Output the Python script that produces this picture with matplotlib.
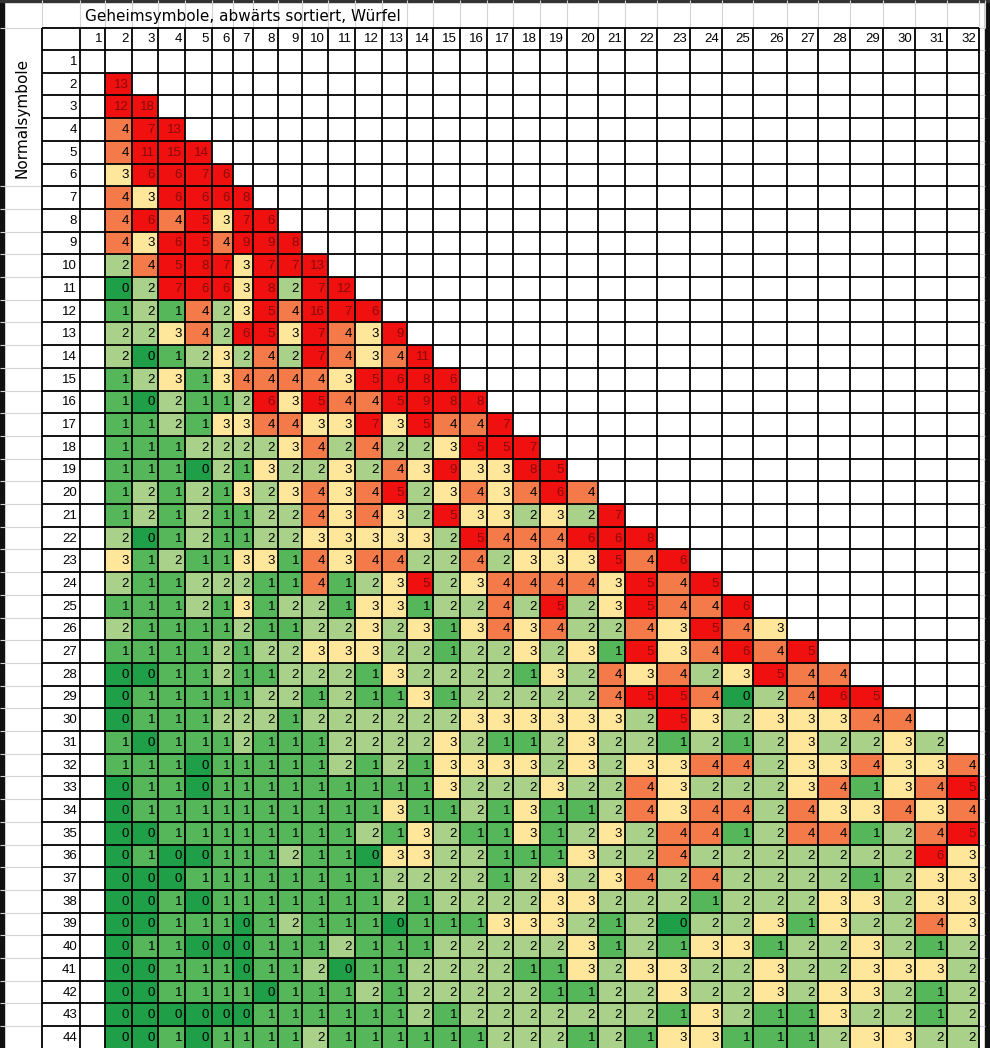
import numpy as np
import matplotlib.pyplot as plt
from matplotlib.colors import ListedColormap, BoundaryNorm

plt.rcParams['font.family'] = ['Liberation Sans', 'DejaVu Sans']

titel = "Geheimsymbole, abwärts sortiert, Würfel"
zeilen_titel = "Normalsymbole"
n_zeilen = 44
n_spalten = 32

# Zeile r (2..44): Werte für Spalten 2..min(r, 32)
werte = [
    [13],
    [12, 18],
    [4, 7, 13],
    [4, 11, 15, 14],
    [3, 6, 6, 7, 6],
    [4, 3, 6, 6, 6, 8],
    [4, 6, 4, 5, 3, 7, 6],
    [4, 3, 6, 5, 4, 9, 9, 8],
    [2, 4, 5, 8, 7, 3, 7, 7, 13],
    [0, 2, 7, 6, 6, 3, 8, 2, 7, 12],
    [1, 2, 1, 4, 2, 3, 5, 4, 16, 7, 6],
    [2, 2, 3, 4, 2, 6, 5, 3, 7, 4, 3, 9],
    [2, 0, 1, 2, 3, 2, 4, 2, 7, 4, 3, 4, 11],
    [1, 2, 3, 1, 3, 4, 4, 4, 4, 3, 5, 6, 8, 6],
    [1, 0, 2, 1, 1, 2, 6, 3, 5, 4, 4, 5, 9, 8, 8],
    [1, 1, 2, 1, 3, 3, 4, 4, 3, 3, 7, 3, 5, 4, 4, 7],
    [1, 1, 1, 2, 2, 2, 2, 3, 4, 2, 4, 2, 2, 3, 5, 5, 7],
    [1, 1, 1, 0, 2, 1, 3, 2, 2, 3, 2, 4, 3, 9, 3, 3, 8, 5],
    [1, 2, 1, 2, 1, 3, 2, 3, 4, 3, 4, 5, 2, 3, 4, 3, 4, 6, 4],
    [1, 2, 1, 2, 1, 1, 2, 2, 4, 3, 4, 3, 2, 5, 3, 3, 2, 3, 2, 7],
    [2, 0, 1, 2, 1, 1, 2, 2, 3, 3, 3, 3, 3, 2, 5, 4, 4, 4, 6, 6, 8],
    [3, 1, 2, 1, 1, 3, 3, 1, 4, 3, 4, 4, 2, 2, 4, 2, 3, 3, 3, 5, 4, 6],
    [2, 1, 1, 2, 2, 2, 1, 1, 4, 1, 2, 3, 5, 2, 3, 4, 4, 4, 4, 3, 5, 4, 5],
    [1, 1, 1, 2, 1, 3, 1, 2, 2, 1, 3, 3, 1, 2, 2, 4, 2, 5, 2, 3, 5, 4, 4, 6],
    [2, 1, 1, 1, 1, 2, 1, 1, 2, 2, 3, 2, 3, 1, 3, 4, 3, 4, 2, 2, 4, 3, 5, 4, 3],
    [1, 1, 1, 1, 2, 1, 2, 2, 3, 3, 3, 2, 2, 1, 2, 2, 3, 2, 3, 1, 5, 3, 4, 6, 4, 5],
    [0, 0, 1, 1, 2, 1, 1, 2, 2, 2, 1, 3, 2, 2, 2, 2, 1, 3, 2, 4, 3, 4, 2, 3, 5, 4, 4],
    [0, 1, 1, 1, 1, 1, 2, 2, 1, 2, 1, 1, 3, 1, 2, 2, 2, 2, 2, 4, 5, 5, 4, 0, 2, 4, 6, 5],
    [0, 1, 1, 1, 2, 2, 2, 1, 2, 2, 2, 2, 2, 2, 3, 3, 3, 3, 3, 3, 2, 5, 3, 2, 3, 3, 3, 4, 4],
    [1, 0, 1, 1, 1, 2, 1, 1, 1, 2, 2, 2, 2, 3, 2, 1, 1, 2, 3, 2, 2, 1, 2, 1, 2, 3, 2, 2, 3, 2],
    [1, 1, 1, 0, 1, 1, 1, 1, 1, 2, 1, 2, 1, 3, 3, 3, 3, 2, 3, 2, 3, 3, 4, 4, 2, 3, 3, 4, 3, 3, 4],
    [0, 1, 1, 0, 1, 1, 1, 1, 1, 1, 1, 1, 1, 3, 2, 2, 2, 3, 2, 2, 4, 3, 2, 2, 2, 3, 4, 1, 3, 4, 5],
    [0, 1, 1, 1, 1, 1, 1, 1, 1, 1, 1, 3, 1, 1, 2, 1, 3, 1, 1, 2, 4, 3, 4, 4, 2, 4, 3, 3, 4, 3, 4],
    [0, 0, 1, 1, 1, 1, 1, 1, 1, 1, 2, 1, 3, 2, 1, 1, 3, 1, 2, 3, 2, 4, 4, 1, 2, 4, 4, 1, 2, 4, 5],
    [0, 1, 0, 0, 1, 1, 1, 2, 1, 1, 0, 3, 3, 2, 2, 1, 1, 1, 3, 2, 2, 4, 2, 2, 2, 2, 2, 2, 2, 6, 3],
    [0, 0, 0, 1, 1, 1, 1, 1, 1, 1, 1, 2, 2, 2, 2, 1, 2, 3, 2, 3, 4, 2, 4, 2, 2, 2, 2, 1, 2, 3, 3],
    [0, 0, 1, 0, 1, 1, 1, 1, 1, 1, 1, 2, 1, 2, 2, 2, 2, 3, 3, 2, 2, 2, 1, 2, 2, 2, 3, 3, 2, 3, 3],
    [0, 0, 1, 1, 1, 0, 1, 2, 1, 1, 1, 0, 1, 1, 1, 3, 3, 3, 2, 1, 2, 0, 2, 2, 3, 1, 3, 2, 2, 4, 3],
    [0, 1, 1, 0, 0, 0, 1, 1, 1, 2, 1, 1, 1, 2, 2, 2, 2, 2, 3, 1, 2, 1, 3, 3, 1, 2, 2, 3, 2, 1, 2],
    [0, 0, 1, 1, 1, 0, 1, 1, 2, 0, 1, 1, 2, 2, 2, 2, 1, 1, 3, 2, 3, 3, 2, 2, 3, 2, 2, 3, 3, 3, 2],
    [0, 0, 1, 1, 1, 1, 0, 1, 1, 1, 2, 1, 2, 2, 2, 2, 2, 1, 1, 2, 2, 3, 2, 2, 3, 2, 3, 3, 2, 1, 2],
    [0, 0, 0, 0, 0, 0, 1, 1, 1, 1, 1, 1, 2, 1, 2, 2, 2, 2, 2, 2, 2, 1, 3, 2, 1, 1, 3, 2, 2, 1, 2],
    [0, 0, 1, 0, 1, 1, 1, 1, 2, 1, 1, 1, 1, 1, 1, 2, 2, 2, 1, 2, 1, 3, 3, 1, 1, 1, 2, 3, 3, 2, 2],
]

# Excel-Farbskala: 0, 1, 2, 3, 4, >=5
farben = ['#1e9f48', '#55b75a', '#a9d18a', '#fee79a', '#f47a4a', '#f01010']

# Spaltengrenzen (Pixel), Excel-Spaltenbreiten
x_kanten = np.array([80, 105, 132, 158, 185, 212, 233, 253, 278, 302, 328, 355, 382, 407,
                     433, 460, 487, 513, 540, 567, 598, 625, 657, 690, 722, 753, 787,
                     818, 850, 883, 915, 947, 979])
zeilen_h = 22.7
y_kanten = 50 + zeilen_h * np.arange(n_zeilen + 1)

# Matrix füllen
M = np.full((n_zeilen, n_spalten), np.nan)
for i, zeile in enumerate(werte):
    r = i + 1  # Index der Zeile (Zeile 2 -> 1)
    M[r, 1:1 + len(zeile)] = zeile

fig = plt.figure(figsize=(9.9, 10.48), dpi=100)
ax = fig.add_axes([0, 0, 1, 1])
ax.set_xlim(0, 990)
ax.set_ylim(1048, 0)
ax.axis('off')

cmap = ListedColormap(farben)
norm = BoundaryNorm([-0.5, 0.5, 1.5, 2.5, 3.5, 4.5, 100], cmap.N)
ax.pcolormesh(x_kanten, y_kanten, np.ma.masked_invalid(M), cmap=cmap, norm=norm)

# helle Excel-Gitterlinien ausserhalb der Tabelle
grau = '#d4d4d4'
ax.vlines(np.r_[42, x_kanten, 985], 0, 28, color=grau, lw=0.8)
ax.hlines(y_kanten[6:], 0, 42, color=grau, lw=0.8)
ax.hlines(np.r_[28, y_kanten], 979, 985, color=grau, lw=0.8)
ax.hlines(28, 0, 42, color=grau, lw=0.8)

# schwarze Rahmenlinien
ax.vlines(np.r_[42, x_kanten], 28, 1048, color='black', lw=1.3)
ax.hlines(np.r_[28, y_kanten], 42, x_kanten[-1], color='black', lw=1.3)

# Bildschirmrand
ax.axvspan(0, 4, color='#111111')
ax.axvspan(985, 990, color='#111111')
ax.axhspan(0, 2, color='#333333')

# Texte
ax.text(85, 16, titel, ha='left', va='center', fontsize=11, family='DejaVu Sans')
ax.text(22, (y_kanten[0] + y_kanten[6]) / 2, zeilen_titel, rotation=90,
        ha='center', va='center', fontsize=11, family='DejaVu Sans')

for j in range(n_spalten):
    ax.text(x_kanten[j + 1] - 3, 39.5, str(j + 1), ha='right', va='center', fontsize=9.5)

for r in range(n_zeilen):
    yc = (y_kanten[r] + y_kanten[r + 1]) / 2
    ax.text(77, yc + 0.5, str(r + 1), ha='right', va='center', fontsize=9.5)
    for j in range(n_spalten):
        v = M[r, j]
        if np.isnan(v):
            continue
        farbe = '#8a0a0a' if v >= 5 else 'black'
        ax.text(x_kanten[j + 1] - 3, yc + 0.5, str(int(v)), ha='right', va='center',
                fontsize=9.5, color=farbe)

fig.savefig('out.png', dpi=100)
